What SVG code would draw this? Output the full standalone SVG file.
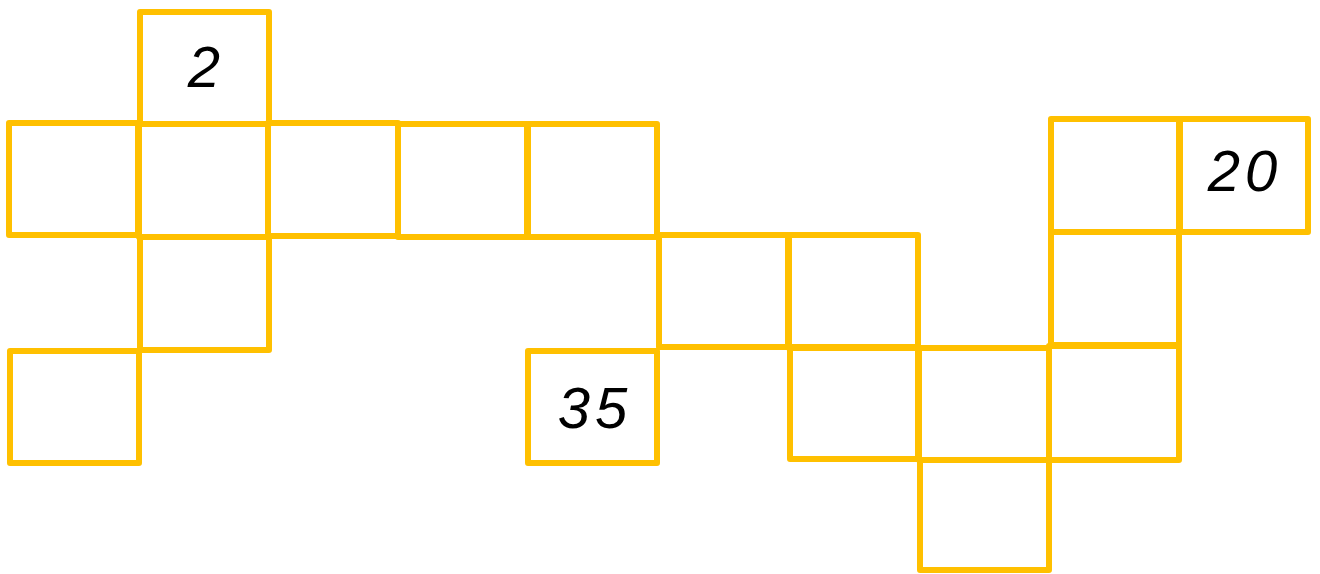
<svg xmlns="http://www.w3.org/2000/svg" width="1320" height="574" viewBox="0 0 1320 574">
<style>
.c{fill:none;stroke:#FFC000;stroke-width:6;stroke-linejoin:round}
.t{font-family:"Liberation Sans",Arial,sans-serif;font-style:italic;font-size:58px;fill:#000;text-anchor:middle}
</style>
<rect width="1320" height="574" fill="#fff"/>
<g id="sq-2"><rect class="c" x="140" y="12" width="129" height="112"/><text class="t" x="204" y="87">2</text></g>
<g id="sq-r2c1"><rect class="c" x="9" y="123" width="129" height="112"/></g>
<g id="sq-r2c2"><rect class="c" x="139" y="124" width="129" height="113"/></g>
<g id="sq-r2c3"><rect class="c" x="268" y="123" width="130" height="113"/></g>
<g id="sq-r2c4"><rect class="c" x="398" y="124" width="129" height="113"/></g>
<g id="sq-r2c5"><rect class="c" x="528" y="124" width="129" height="113"/></g>
<g id="sq-r3c2"><rect class="c" x="140" y="237" width="129" height="113"/></g>
<g id="sq-r4c1"><rect class="c" x="10" y="351" width="129" height="112"/></g>
<g id="sq-35"><rect class="c" x="528" y="351" width="129" height="112"/><text class="t" x="595" y="428" letter-spacing="5">35</text></g>
<g id="sq-r3c6"><rect class="c" x="659" y="235" width="129" height="112"/></g>
<g id="sq-r3c7"><rect class="c" x="789" y="235" width="129" height="113"/></g>
<g id="sq-r4c7"><rect class="c" x="790" y="347" width="128" height="112"/></g>
<g id="sq-r4c8"><rect class="c" x="919" y="348" width="130" height="112"/></g>
<g id="sq-r4c9"><rect class="c" x="1049" y="346" width="130" height="114"/></g>
<g id="sq-r5c8"><rect class="c" x="920" y="460" width="129" height="110"/></g>
<g id="sq-r3c9"><rect class="c" x="1051" y="232" width="128" height="113"/></g>
<g id="sq-r2c9"><rect class="c" x="1051" y="119" width="128" height="113"/></g>
<g id="sq-20"><rect class="c" x="1180" y="119" width="128" height="113"/><text class="t" x="1245" y="191" letter-spacing="5">20</text></g>
</svg>
